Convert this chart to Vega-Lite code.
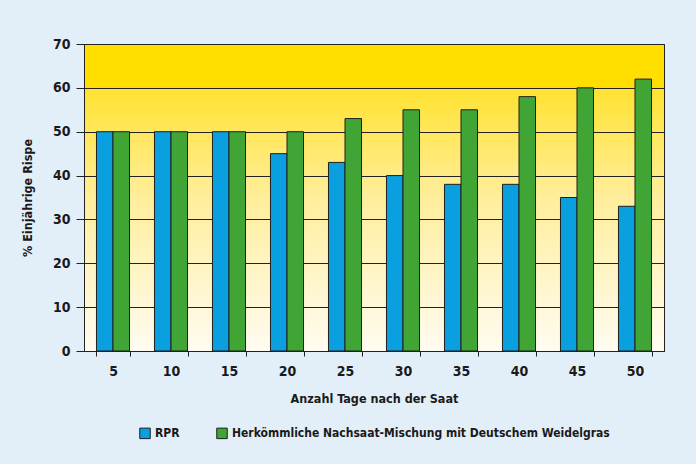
{
  "$schema": "https://vega.github.io/schema/vega-lite/v6.json",
  "autosize": "none",
  "width": 580,
  "height": 307,
  "padding": {"left": 84, "top": 44, "right": 32, "bottom": 113},
  "background": "#e3eff8",
  "data": {
    "values": [
      {"Tage": "5", "Serie": "RPR", "Wert": 50},
      {"Tage": "5", "Serie": "Herkömmliche Nachsaat-Mischung mit Deutschem Weidelgras", "Wert": 50},
      {"Tage": "10", "Serie": "RPR", "Wert": 50},
      {"Tage": "10", "Serie": "Herkömmliche Nachsaat-Mischung mit Deutschem Weidelgras", "Wert": 50},
      {"Tage": "15", "Serie": "RPR", "Wert": 50},
      {"Tage": "15", "Serie": "Herkömmliche Nachsaat-Mischung mit Deutschem Weidelgras", "Wert": 50},
      {"Tage": "20", "Serie": "RPR", "Wert": 45},
      {"Tage": "20", "Serie": "Herkömmliche Nachsaat-Mischung mit Deutschem Weidelgras", "Wert": 50},
      {"Tage": "25", "Serie": "RPR", "Wert": 43},
      {"Tage": "25", "Serie": "Herkömmliche Nachsaat-Mischung mit Deutschem Weidelgras", "Wert": 53},
      {"Tage": "30", "Serie": "RPR", "Wert": 40},
      {"Tage": "30", "Serie": "Herkömmliche Nachsaat-Mischung mit Deutschem Weidelgras", "Wert": 55},
      {"Tage": "35", "Serie": "RPR", "Wert": 38},
      {"Tage": "35", "Serie": "Herkömmliche Nachsaat-Mischung mit Deutschem Weidelgras", "Wert": 55},
      {"Tage": "40", "Serie": "RPR", "Wert": 38},
      {"Tage": "40", "Serie": "Herkömmliche Nachsaat-Mischung mit Deutschem Weidelgras", "Wert": 58},
      {"Tage": "45", "Serie": "RPR", "Wert": 35},
      {"Tage": "45", "Serie": "Herkömmliche Nachsaat-Mischung mit Deutschem Weidelgras", "Wert": 60},
      {"Tage": "50", "Serie": "RPR", "Wert": 33},
      {"Tage": "50", "Serie": "Herkömmliche Nachsaat-Mischung mit Deutschem Weidelgras", "Wert": 62}
    ]
  },
  "mark": {"type": "bar", "stroke": "#1f1f1f", "strokeWidth": 1},
  "encoding": {
    "x": {
      "field": "Tage",
      "type": "ordinal",
      "sort": null,
      "scale": {"paddingInner": 0.43, "paddingOuter": 0.215},
      "axis": {
        "title": "Anzahl Tage nach der Saat",
        "labelAngle": 0,
        "tickBand": "extent",
        "tickSize": 5,
        "labelPadding": 8,
        "titlePadding": 14
      }
    },
    "xOffset": {"field": "Serie", "type": "nominal", "sort": ["RPR", "Herkömmliche Nachsaat-Mischung mit Deutschem Weidelgras"]},
    "y": {
      "field": "Wert",
      "type": "quantitative",
      "scale": {"domain": [0, 70], "nice": false},
      "axis": {
        "title": "% Einjährige Rispe",
        "values": [0, 10, 20, 30, 40, 50, 60, 70],
        "tickSize": 8,
        "labelPadding": 6,
        "titlePadding": 18,
        "grid": true
      }
    },
    "color": {
      "field": "Serie",
      "type": "nominal",
      "sort": ["RPR", "Herkömmliche Nachsaat-Mischung mit Deutschem Weidelgras"],
      "scale": {"range": ["#0a9fdf", "#40a535"]},
      "legend": {
        "title": null,
        "orient": "bottom",
        "direction": "horizontal",
        "symbolType": "square",
        "symbolSize": 110,
        "symbolStrokeColor": "#1f1f1f",
        "symbolStrokeWidth": 1,
        "columnPadding": 34,
        "labelPadding": 9,
        "offset": 22
      }
    }
  },
  "config": {
    "font": "'DejaVu Sans Condensed', 'DejaVu Sans', sans-serif",
    "view": {
      "stroke": "#222222",
      "strokeWidth": 1,
      "fill": {
        "gradient": "linear",
        "x1": 0, "y1": 0, "x2": 0, "y2": 1,
        "stops": [
          {"offset": 0, "color": "#ffde00"},
          {"offset": 0.14, "color": "#ffde00"},
          {"offset": 0.145, "color": "#ffe232"},
          {"offset": 0.5, "color": "#ffee9c"},
          {"offset": 1, "color": "#fffcf2"}
        ]
      }
    },
    "axis": {
      "domainColor": "#222222",
      "tickColor": "#222222",
      "gridColor": "#222222",
      "gridOpacity": 1,
      "labelFont": "'DejaVu Sans Condensed', 'DejaVu Sans', sans-serif",
      "labelFontWeight": "bold",
      "labelFontSize": 14,
      "labelColor": "#1a1a1a",
      "titleFont": "'DejaVu Sans Condensed', 'DejaVu Sans', sans-serif",
      "titleFontWeight": "bold",
      "titleFontSize": 12.5,
      "titleColor": "#1a1a1a"
    },
    "legend": {
      "labelFont": "'DejaVu Sans Condensed', 'DejaVu Sans', sans-serif",
      "labelFontWeight": "bold",
      "labelFontSize": 12,
      "labelColor": "#1a1a1a",
      "labelLimit": 500,
      "layout": {"bottom": {"anchor": "middle"}}
    }
  }
}
